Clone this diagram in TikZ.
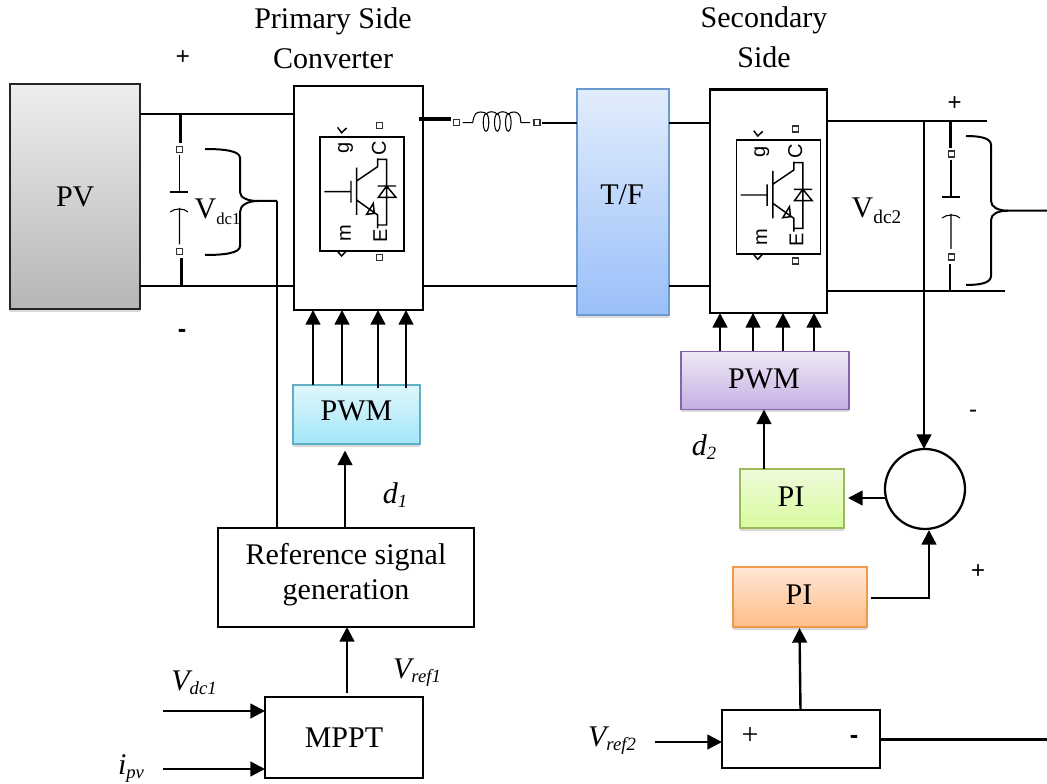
\documentclass[tikz,border=0pt]{standalone}
\usepackage{fontspec}
\setmainfont{Liberation Serif}
\newfontfamily\sansf{Liberation Sans}
\usetikzlibrary{arrows.meta,shadows,calc}
\definecolor{tfD}{HTML}{6C9BCF}\definecolor{tfT}{HTML}{E2EDFC}\definecolor{tfB}{HTML}{99BFF9}
\definecolor{cyD}{HTML}{5FB0C4}\definecolor{cyT}{HTML}{DFF6FB}\definecolor{cyB}{HTML}{A3E6F9}
\definecolor{puD}{HTML}{8466A8}\definecolor{puT}{HTML}{EFE8F6}\definecolor{puB}{HTML}{C5AFE3}
\definecolor{grD}{HTML}{9BBB59}\definecolor{grT}{HTML}{EEFBDB}\definecolor{grB}{HTML}{D8FB9E}
\definecolor{orD}{HTML}{EE9A4D}\definecolor{orT}{HTML}{FFE6D6}\definecolor{orB}{HTML}{FFBE88}
\definecolor{gyT}{HTML}{EEEEEE}\definecolor{gyB}{HTML}{B6B6B6}
\newcommand{\usub}[2][14]{\raisebox{-.2em}{\fontsize{#1}{#1}\selectfont #2}}
\newcommand{\isub}[1]{\raisebox{-.13em}{\fontsize{14}{14}\selectfont\itshape #1}}
\tikzset{
  x=0.75pt,y=-0.75pt,
  lab/.style={font=\fontsize{22.5}{30}\selectfont,align=center,inner sep=0pt},
  ilab/.style={font=\fontsize{22.5}{26}\selectfont\itshape,inner sep=0pt},
  sgn/.style={font=\sansf\fontsize{18}{18}\selectfont,inner sep=0pt},
  msgn/.style={font=\sansf\bfseries\fontsize{19}{19}\selectfont,inner sep=0pt},
  plain/.style={draw=black,line width=1.7pt,fill=white,outer sep=0pt,inner sep=0pt,align=center,font=\fontsize{22.5}{26}\selectfont},
  grad/.style n args={3}{draw=#1,line width=1.2pt,top color=#2,bottom color=#3,outer sep=0pt,inner sep=0pt,
     drop shadow={opacity=.3,shadow xshift=0pt,shadow yshift=-2pt},font=\fontsize{22.5}{26}\selectfont},
  wire/.style={line width=1.6pt},
  thickw/.style={line width=2.6pt},
  thinw/.style={line width=.8pt},
  arr/.style={line width=1.8pt,-{Triangle[length=11pt,width=11pt]}},
  port/.style={draw=black!80,line width=.9pt,fill=white,minimum size=4.5pt,inner sep=0pt,outer sep=0pt},
  ic/.style={font=\sansf\fontsize{15}{15}\selectfont,inner sep=0pt,rotate=90},
  igbt/.pic={
    \draw[line width=1.3pt] (0,0) rectangle (84,114);
    \draw[line width=1.1pt]
      (4,55) -- (30.7,55)
      (30.7,44.3) -- (30.7,66)
      (36.3,31) -- (36.3,78.3)
      (36.3,44.3) -- (57.3,30) -- (57.3,21.7)
      (36.3,63.3) -- (57.3,78.3) -- (57.3,91.7)
      (57.3,22.7) -- (66.3,22.7) -- (66.3,88.3) -- (57.3,88.3)
      (57.3,49.3) -- (75.7,49.3)
      (66.3,49.3) -- (58,60.7) -- (75.7,60.7) -- cycle
      (46.3,77.7) -- (53,66.7) -- (54,76.7) -- cycle
      (17.3,-9.3) -- (21.3,-4) -- (26.3,-8.7)
      (16.7,114) -- (21.3,119.3) -- (26.3,114);
    \node[ic] (lg) at (25.3,11.7) {g};
    \node[ic] (lc) at (58.7,11.7) {C};
    \node[ic] (lm) at (25.3,96.7) {m};
    \node[ic] (le) at (60,99.5) {E};
    \node[port] (p1) at (59,-11) {};
    \node[port] (p2) at (59,121) {};
  }
}
\begin{document}
\begin{tikzpicture}
\useasboundingbox (0,0) rectangle (1047,784);
% levels used by the wires
\coordinate (yT1) at (0,114);
\coordinate (yB1) at (0,286);
\coordinate (yT2) at (0,123);
\coordinate (yT3) at (0,121);
\coordinate (yB3) at (0,291);

% main blocks
\node[grad={black!85}{gyT}{gyB},line width=1.5pt,minimum width=129.5*0.75pt,minimum height=225*0.75pt] (pv) at (75.2,196.5) {PV};
\node[plain,minimum width=129*0.75pt,minimum height=224*0.75pt] (conv1) at (358.5,198) {};
\node[grad={tfD}{tfT}{tfB},minimum width=92*0.75pt,minimum height=226*0.75pt] (tf) at (623,202) {};
\node[lab] (tft) at (622,195) {T/F};
\node[plain,minimum width=117*0.75pt,minimum height=223.5*0.75pt] (conv2) at (768.5,201.2) {};
\pic at (320.3,136.7) {igbt};
\pic at (736.5,140) {igbt};

% titles
\node[lab] (title1) at (333,38) {Primary Side\\Converter};
\node[lab] (title2) at (764,37.5) {Secondary\\Side};

% wires DC side
\draw[wire] (pv.east |- yT1) -- (conv1.west |- yT1);
\draw[wire] (pv.east |- yB1) -- (conv1.west |- yB1);
\draw[wire] (conv1.east |- yB1) -- (tf.west |- yB1);
\draw[wire] (tf.east |- yT2) -- (conv2.west |- yT2);
\draw[wire] (tf.east |- yB1) -- (conv2.west |- yB1);

% capacitor 1
\node[port] (c1a) at (179.5,149.3) {};
\node[port] (c1b) at (179.5,251.7) {};
\coordinate (c1top) at (180.3,114);
\coordinate (c1bot) at (181.3,286);
\draw[thickw] (c1top) -- (180.3,142.7);
\draw[thickw] (181.3,258.3) -- (c1bot);
\draw[thinw] (179.5,155) -- (179.5,192) (170,192) -- (188,192);
\draw[thinw] (179.5,244.3) -- (179.5,208) (170,212) .. controls (175,208) and (184,208) .. (188,212);
\coordinate (br1) at (277,201);
\draw[line width=1.5pt] (205,149) .. controls (225,149) and (240,151) .. (240,158) -- (240,192)
   .. controls (240,198) and (248,201) .. (258,201) -- (br1);
\draw[line width=1.5pt] (205,255) .. controls (225,255) and (240,253) .. (240,246) -- (240,212)
   .. controls (240,205) and (248,201) .. (258,201);
\node[lab] (vdc1) at (217.5,212) {V\usub[12.5]{dc1}};

% inductor
\node[port] (l1) at (456.3,122.7) {};
\node[port] (l2) at (537,122.7) {};
\coordinate (l1in) at (419,119);
\draw[thickw] (l1in) -- (451,119);
\draw[line width=2pt] (541.5,123) -- (tf.west |- yT2);
\draw[thinw] (462.7,122.7) -- (472.7,122.7) .. controls (474,114) and (476,112) .. (481,112)
  .. controls (484,112) and (486,113) .. (486,114)
  .. controls (489,111) and (494,111) .. (497.3,114)
  .. controls (500,111) and (505,111) .. (508.3,114)
  .. controls (512,111) and (518,111) .. (520,116) -- (521,122.7) -- (530,122.7);
\draw[thinw] (486,122.5) ellipse [x radius=2.8,y radius=8.7];
\draw[thinw] (497.3,122.5) ellipse [x radius=2.8,y radius=8.7];
\draw[thinw] (508.3,122.5) ellipse [x radius=2.8,y radius=8.7];

% right DC side
\coordinate (t3e) at (987,121);
\coordinate (b3e) at (1005,291);
\draw[wire] (conv2.east |- yT3) -- (t3e);
\draw[line width=2.2pt] (conv2.east |- yB3) -- (b3e);

% capacitor 2
\node[port] (c2a) at (951.5,154) {};
\node[port] (c2b) at (951.5,257) {};
\coordinate (c2top) at (950.7,121);
\coordinate (c2bot) at (950.3,291);
\draw[thickw] (c2top) -- (950.7,148);
\draw[line width=1.7pt] (950.3,264) -- (c2bot);
\draw[thinw] (951,160) -- (951,197) (942,197) -- (960,197);
\draw[thinw] (951,249) -- (951,214) (942,218) .. controls (947,214) and (956,214) .. (960,218);
\coordinate (br2) at (1047,210.7);
\draw[line width=1.5pt] (966,136) .. controls (980,136) and (991,138) .. (991,145) -- (991,201)
   .. controls (991,207) and (998,210.7) .. (1008,210.7) -- (br2);
\draw[line width=1.5pt] (966,285) .. controls (980,285) and (991,283) .. (991,276) -- (991,220)
   .. controls (991,214) and (998,210.7) .. (1008,210.7);
\node[lab] (vdc2) at (876.5,211) {V\usub[14.5]{dc2}};

% control, left
\node[grad={cyD}{cyT}{cyB},minimum width=127*0.75pt,minimum height=59*0.75pt] (pwm1) at (356.3,414.5) {};
\node[lab] (pwm1t) at (356.5,411) {PWM};
\node[plain,minimum width=256*0.75pt,minimum height=99*0.75pt] (ref) at (346,577.5) {};
\node[lab,font=\fontsize{22.5}{26}\selectfont] (reft) at (346,574.5) {Reference signal\\generation};
\node[plain,minimum width=158*0.75pt,minimum height=81*0.75pt] (mppt) at (344,737.5) {MPPT};
\coordinate (a1) at (313,385);
\coordinate (a2) at (342,385);
\coordinate (a3) at (378,388);
\coordinate (a4) at (406,388);
\foreach \c in {a1,a2,a3,a4} \draw[arr] (\c) -- (\c |- conv1.south);
\draw[wire] (br1) -- (br1 |- ref.north);
\coordinate (refout) at (345,528);
\coordinate (pwm1in) at (345,450.5);
\draw[arr] (refout) -- (pwm1in);
\coordinate (mpout) at (347,693);
\draw[arr] (mpout) -- (mpout |- ref.south);
\coordinate (in1) at (163,711);
\coordinate (in2) at (163,769);
\draw[arr] (in1) -- (in1 -| mppt.west);
\draw[arr] (in2) -- (in2 -| mppt.west);
\node[ilab] (ld1) at (395,495) {d\isub{1}};
\node[ilab] (lvr1) at (417,673) {V\isub{ref1}};
\node[ilab] (lvd1) at (194,683) {V\isub{dc1}};
\node[ilab] (lipv) at (131,769) {i\isub{pv}};

% control, right
\node[grad={puD}{puT}{puB},minimum width=168*0.75pt,minimum height=58*0.75pt] (pwm2) at (765,380.5) {};
\node[lab] (pwm2t) at (764,379) {PWM};
\node[grad={grD}{grT}{grB},minimum width=104*0.75pt,minimum height=59*0.75pt] (pig) at (792,498.5) {};
\node[lab] (pigt) at (791,497) {PI};
\node[grad={orD}{orT}{orB},minimum width=134*0.75pt,minimum height=60*0.75pt] (pio) at (799.7,597) {};
\node[lab] (piot) at (799,595) {PI};
\node[plain,minimum width=158*0.75pt,minimum height=58*0.75pt] (sub) at (801,739) {};
\node[lab] (subp) at (750,736) {+};
\node[msgn] (subm) at (854,739) {-};
\node[draw=black,line width=1.7pt,fill=white,circle,minimum size=80*0.75pt,inner sep=0pt,outer sep=0pt] (sum) at (925,489) {};
\coordinate (b1) at (720,351.5);
\coordinate (b2) at (753,351.5);
\coordinate (b3) at (783,351.5);
\coordinate (b4) at (814,351.5);
\foreach \c in {b1,b2,b3,b4} \draw[arr] (\c) -- (\c |- conv2.south);
\coordinate (pigout) at (764,469);
\draw[arr] (pigout) -- (pigout |- pwm2.south);
\coordinate (sumtap) at (924,121);
\draw[arr] (sumtap) -- (sumtap |- sum.north);
\coordinate (sumout) at (885,498);
\coordinate (pigin) at (848,498);
\draw[arr] (sumout) -- (pigin);
\coordinate (pioout) at (871,598);
\coordinate (sumin) at (929,530);
\draw[arr] (pioout) -- (sumin |- pioout) -- (sumin);
\coordinate (subout) at (800.5,710);
\draw[arr] (subout) -- (799.5,628);
\coordinate (vin) at (655,742);
\draw[arr] (vin) -- (vin -| sub.west);
\coordinate (subr) at (1047,739.5);
\draw[wire] (sub.east |- subr) -- (subr);
\node[ilab] (ld2) at (704,447) {d\isub{2}};
\node[ilab] (lvr2) at (612,741) {V\isub{ref2}};

% signs
\node[sgn] (s1) at (183,58) {+};
\node[msgn] (s2) at (182,333) {-};
\node[sgn] (s3) at (954.7,104) {+};
\node[sgn] (s4) at (973,414) {-};
\node[sgn] (s5) at (978,572) {+};
\end{tikzpicture}
\end{document}
